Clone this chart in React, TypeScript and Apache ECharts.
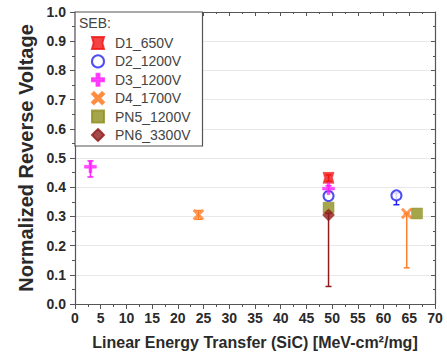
import React, { useEffect, useRef } from "react";
import * as echarts from "echarts";

const xTicks = [0, 5, 10, 15, 20, 25, 30, 35, 40, 45, 50, 55, 60, 65, 70];
const seriesNames = ["D1_650V", "D2_1200V", "D3_1200V", "D4_1700V", "PN5_1200V", "PN6_3300V"];
const seriesColors = ["#f01414", "#2020f0", "#ff20ff", "#ff7f2a", "#8f8f1e", "#8e1c1c"];
// points: [LET, normalized voltage]
const d1Points = [[49.3, 0.432]];
const d2Points = [[49.3, 0.37], [62.5, 0.372]];
const d3Points = [[3, 0.47], [49.3, 0.395]];
const d4Points = [[24, 0.306], [64.5, 0.31]];
const pn5Points = [[49.3, 0.33], [66.5, 0.31]];
const pn6Points = [[49.3, 0.305]];
// error bars: [LET, low, high]
const d1Err = [[49.3, 0.42, 0.442]];
const d2Err = [[62.5, 0.34, 0.38]];
const d3Err = [[3, 0.435, 0.49], [49.3, 0.385, 0.405]];
const d4Err = [[24, 0.29, 0.32], [64.5, 0.124, 0.31]];
const pn5Err: number[][] = [];
const pn6Err = [[49.3, 0.06, 0.31]];

const symbols = [
  "path://M0,0L10,0L8.6,5L10,10L0,10L1.4,5Z",
  "emptyCircle",
  "path://M3.8,0H6.2V3.8H10V6.2H6.2V10H3.8V6.2H0V3.8H3.8Z",
  "path://M0,1.6L1.6,0L5,3.4L8.4,0L10,1.6L6.6,5L10,8.4L8.4,10L5,6.6L1.6,10L0,8.4L3.4,5Z",
  "rect",
  "path://M5,0L7.6,2.4L10,5L7.6,7.6L5,10L2.4,7.6L0,5L2.4,2.4Z",
];
const symbolSizes = [11, 10, 12, 11, 11, 12];

const allPoints = [d1Points, d2Points, d3Points, d4Points, pn5Points, pn6Points];
const allErr = [d1Err, d2Err, d3Err, d4Err, pn5Err, pn6Err];

export default function App() {
  const ref = useRef<HTMLDivElement>(null);
  useEffect(() => {
    if (!ref.current) return;
    const chart = echarts.init(ref.current, undefined, { renderer: "svg" });
    const font = "'Liberation Sans', Arial, sans-serif";
    const series: any[] = [];
    seriesNames.forEach((name, i) => {
      const color = seriesColors[i];
      series.push({
        name: "err_" + name,
        type: "custom",
        xAxisIndex: 0,
        yAxisIndex: 0,
        z: 2 + i,
        data: allErr[i],
        renderItem: (params: any, api: any) => {
          const x = api.value(0);
          const lo = api.coord([x, api.value(1)]);
          const hi = api.coord([x, api.value(2)]);
          const cw = 3;
          const st = { stroke: color, lineWidth: 1.5 };
          return {
            type: "group",
            children: [
              { type: "line", shape: { x1: lo[0], y1: lo[1], x2: hi[0], y2: hi[1] }, style: st },
              { type: "line", shape: { x1: lo[0] - cw, y1: lo[1], x2: lo[0] + cw, y2: lo[1] }, style: st },
              { type: "line", shape: { x1: hi[0] - cw, y1: hi[1], x2: hi[0] + cw, y2: hi[1] }, style: st },
            ],
          };
        },
      });
    });
    seriesNames.forEach((name, i) => {
      const color = seriesColors[i];
      const isEmpty = symbols[i] === "emptyCircle";
      series.push({
        name,
        type: "scatter",
        xAxisIndex: 0,
        yAxisIndex: 0,
        z: 10 + i,
        symbol: symbols[i],
        symbolSize: symbolSizes[i],
        data: allPoints[i],
        itemStyle: isEmpty
          ? { color, borderColor: color, borderWidth: 2.4 }
          : { color, borderColor: color, borderWidth: 0.5 },
      });
    });
    const option: any = {
      animation: false,
      backgroundColor: "#ffffff",
      textStyle: { fontFamily: font },
      grid: { left: 75, right: 12, top: 12, bottom: 52 },
      legend: {
        show: true,
        data: seriesNames,
        orient: "vertical",
        left: 75,
        top: 12,
        padding: [24, 12, 4, 16],
        itemGap: 4.4,
        itemWidth: 12,
        itemHeight: 12,
        borderColor: "#555555",
        borderWidth: 1.2,
        backgroundColor: "#ffffff",
        textStyle: { fontSize: 14, color: "#444444", fontFamily: font, padding: [0, 0, 0, 6] },
      },
      graphic: [
        {
          type: "text",
          left: 79,
          top: 16,
          z: 100,
          style: { text: "SEB:", font: `14px ${font}`, fill: "#444444" },
        },
      ],
      xAxis: [
        {
          type: "value",
          min: 0,
          max: 70,
          interval: 5,
          name: "Linear Energy Transfer (SiC) [MeV-cm²/mg]",
          nameLocation: "middle",
          nameGap: 30,
          nameTextStyle: { fontSize: 16, fontWeight: "bold", color: "#2a2a2a", fontFamily: font },
          axisLine: { show: true, lineStyle: { color: "#555555", width: 1.2 } },
          axisTick: { show: true, length: 5, lineStyle: { color: "#555555" } },
          minorTick: { show: true, splitNumber: 2, length: 3, lineStyle: { color: "#555555" } },
          axisLabel: {
            fontSize: 14,
            fontWeight: "bold",
            color: "#2a2a2a",
            margin: 7,
            fontFamily: font,
            formatter: (v: number) => (xTicks.includes(v) ? String(v) : ""),
          },
          splitLine: { show: false },
        },
        {
          type: "value",
          position: "top",
          min: 0,
          max: 70,
          interval: 5,
          axisLine: { show: true, onZero: false, lineStyle: { color: "#555555", width: 1.2 } },
          axisTick: { show: true, inside: true, length: 4, lineStyle: { color: "#555555" } },
          minorTick: { show: true, splitNumber: 2, length: 2 },
          axisLabel: { show: false },
          splitLine: { show: false },
        },
      ],
      yAxis: [
        {
          type: "value",
          min: 0,
          max: 1,
          interval: 0.1,
          name: "Normalized Reverse Voltage",
          nameLocation: "middle",
          nameGap: 37,
          nameTextStyle: { fontSize: 20, fontWeight: "bold", color: "#2a2a2a", fontFamily: font },
          axisLine: { show: true, lineStyle: { color: "#555555", width: 1.2 } },
          axisTick: { show: true, length: 5, lineStyle: { color: "#555555" } },
          minorTick: { show: true, splitNumber: 2, length: 3, lineStyle: { color: "#555555" } },
          axisLabel: {
            fontSize: 14,
            fontWeight: "bold",
            color: "#2a2a2a",
            margin: 9,
            fontFamily: font,
            formatter: (v: number) => v.toFixed(1),
          },
          splitLine: { show: true, lineStyle: { color: "#e8e8e8", width: 1 } },
        },
        {
          type: "value",
          position: "right",
          min: 0,
          max: 1,
          interval: 0.1,
          axisLine: { show: true, onZero: false, lineStyle: { color: "#555555", width: 1.2 } },
          axisTick: { show: true, inside: true, length: 4, lineStyle: { color: "#555555" } },
          minorTick: { show: true, splitNumber: 2, length: 2 },
          axisLabel: { show: false },
          splitLine: { show: false },
        },
      ],
      series,
    };
    chart.setOption(option);
    return () => chart.dispose();
  }, []);
  return <div ref={ref} style={{ width: 447, height: 356, position: "absolute", left: 0, top: 0 }} />;
}
